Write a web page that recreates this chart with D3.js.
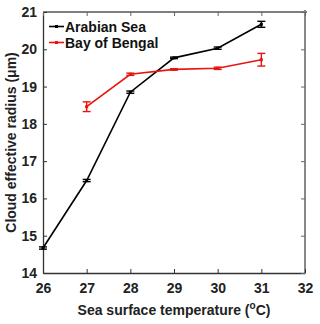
<!DOCTYPE html>
<html><head><meta charset="utf-8">
<script src="https://cdn.jsdelivr.net/npm/d3@7"></script>
<style>body{margin:0;background:#fff}</style>
</head><body>
<svg id="c" width="320" height="324"></svg>
<script>
const sst = [26, 27, 28, 29, 30, 31];
const arabianSea = [14.67, 16.48, 18.85, 19.77, 20.03, 20.67];
const arabianErr = [0.03, 0.03, 0.03, 0.02, 0.03, 0.08];
const bayTemps = [27, 28, 29, 30, 31];
const bayOfBengal = [18.46, 19.33, 19.46, 19.49, 19.72];
const bayErr = [0.13, 0.03, 0.02, 0.03, 0.17];
const xTicks = [26, 27, 28, 29, 30, 31, 32];
const yTicks = [14, 15, 16, 17, 18, 19, 20, 21];

const svg = d3.select('#c');
const m = {l: 43, r: 305, t: 12, b: 273};
const x = d3.scaleLinear().domain([26, 32]).range([m.l, m.r]);
const y = d3.scaleLinear().domain([14, 21]).range([m.b, m.t]);
const font = "'Liberation Sans', Arial, sans-serif";

// frame: top and right gray
svg.append('line').attr('x1', m.l).attr('x2', m.r + 2).attr('y1', m.t).attr('y2', m.t).attr('stroke', '#555').attr('stroke-width', 1.3);
svg.append('line').attr('x1', m.r).attr('x2', m.r).attr('y1', m.t - 2).attr('y2', m.b).attr('stroke', '#888').attr('stroke-width', 2);

const axB = svg.append('g').attr('transform', `translate(0,${m.b})`)
  .call(d3.axisBottom(x).tickValues(xTicks).tickSizeInner(-4).tickSizeOuter(0).tickPadding(10).tickFormat(d3.format('d')));
const axL = svg.append('g').attr('transform', `translate(${m.l},0)`)
  .call(d3.axisLeft(y).tickValues(yTicks).tickSizeInner(-4).tickSizeOuter(0).tickPadding(6).tickFormat(d3.format('d')));
const axT = svg.append('g').attr('transform', `translate(0,${m.t})`)
  .call(d3.axisTop(x).tickValues(xTicks).tickSizeInner(-4).tickSizeOuter(0).tickFormat(''));
const axR = svg.append('g').attr('transform', `translate(${m.r},0)`)
  .call(d3.axisRight(y).tickValues(yTicks).tickSizeInner(-4).tickSizeOuter(0).tickFormat(''));
[axT, axR].forEach(a => { a.select('.domain').remove(); a.selectAll('line').attr('stroke', '#666'); });
[axB, axL].forEach(a => {
  a.select('.domain').attr('stroke', '#333').attr('stroke-width', 1.3);
  a.selectAll('line').attr('stroke', '#333');
  a.selectAll('text').attr('font-family', font).attr('font-weight', 'bold').attr('font-size', 14).attr('fill', '#222');
});

function series(xs, ys, es, color) {
  const line = d3.line().x((d, i) => x(xs[i])).y(d => y(d));
  svg.append('path').datum(ys).attr('d', line).attr('fill', 'none').attr('stroke', color).attr('stroke-width', 1.6);
  const g = svg.append('g').attr('stroke', color).attr('stroke-width', 1.4);
  ys.forEach((v, i) => {
    const cx = x(xs[i]);
    g.append('line').attr('x1', cx).attr('x2', cx).attr('y1', y(v - es[i])).attr('y2', y(v + es[i]));
    g.append('line').attr('x1', cx - 4).attr('x2', cx + 4).attr('y1', y(v - es[i])).attr('y2', y(v - es[i]));
    g.append('line').attr('x1', cx - 4).attr('x2', cx + 4).attr('y1', y(v + es[i])).attr('y2', y(v + es[i]));
  });
  svg.append('g').selectAll('rect').data(ys).join('rect')
    .attr('x', (d, i) => x(xs[i]) - 1.5).attr('y', d => y(d) - 1.5).attr('width', 3).attr('height', 3).attr('fill', color);
}
series(sst, arabianSea, arabianErr, '#000');
series(bayTemps, bayOfBengal, bayErr, '#e8140e');

// legend
const leg = [['Arabian Sea', '#000', 26.5], ['Bay of Bengal', '#e8140e', 42.5]];
leg.forEach(([t, c, ly]) => {
  svg.append('line').attr('x1', 49).attr('x2', 64).attr('y1', ly).attr('y2', ly).attr('stroke', c).attr('stroke-width', 1.6);
  svg.append('rect').attr('x', 55).attr('y', ly - 1.5).attr('width', 3).attr('height', 3).attr('fill', c);
  svg.append('text').attr('x', 65).attr('y', ly + 5).text(t)
    .attr('font-family', font).attr('font-weight', 'bold').attr('font-size', 14).attr('fill', '#111');
});

// axis titles
const xt = svg.append('text').attr('x', (m.l + m.r) / 2).attr('y', 315).attr('text-anchor', 'middle')
  .attr('font-family', font).attr('font-weight', 'bold').attr('font-size', 14).attr('fill', '#222');
xt.append('tspan').text('Sea surface temperature (');
xt.append('tspan').text('o').attr('font-size', 10).attr('dy', -6);
xt.append('tspan').text('C)').attr('dy', 6);

svg.append('text').attr('transform', `translate(16,${(m.t + m.b) / 2}) rotate(-90)`).attr('text-anchor', 'middle')
  .attr('font-family', font).attr('font-weight', 'bold').attr('font-size', 14).attr('fill', '#222')
  .text('Cloud effective radius (μm)');
</script>
</body></html>
